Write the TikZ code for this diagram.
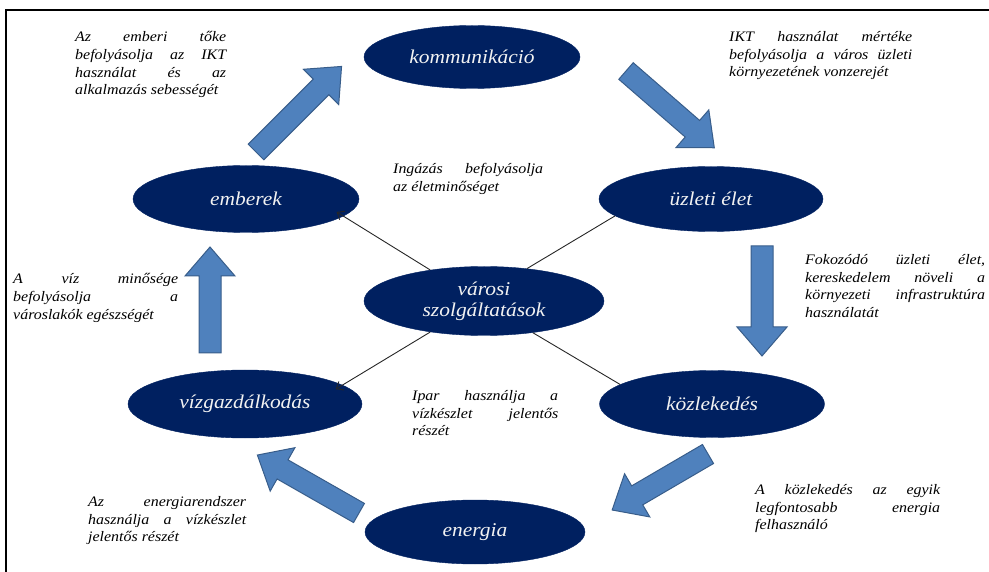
\documentclass[tikz,border=0pt]{standalone}
\usepackage{fontspec}
\setmainfont{Liberation Serif}
\newfontfamily\cfont{Liberation Serif}[FakeStretch=1.1]
\usetikzlibrary{shapes.geometric,arrows.meta}
\definecolor{navy}{HTML}{002060}
\definecolor{blockfill}{HTML}{4F81BD}
\definecolor{blockline}{HTML}{385D8A}
\tikzset{
  oval/.style={ellipse, fill=navy, draw=navy, inner sep=0pt, text=white!95!black,
    font=\cfont\itshape\fontsize{19.5}{21}\selectfont, align=center},
  callout/.style={anchor=north west, inner sep=0pt, align=left,
    font=\cfont\itshape\fontsize{14.5}{17.8}\selectfont},
  thinline/.style={draw=black!85, line width=0.9pt},
  thinarrow/.style={thinline, -{Straight Barb[length=6pt,width=10pt]}, shorten >=-8pt},
  blockstyle/.style={fill=blockfill, draw=blockline, line width=1pt, line join=miter},
}
\newcommand\jl[2]{\makebox[#1][s]{#2}}
\newcommand\barrow[3]{%
  \draw[blockstyle, shift={#1}, rotate=#2] (0,-11) -- ({#3-29},-11) -- ({#3-29},-25)
    -- (#3,0) -- ({#3-29},25) -- ({#3-29},11) -- (0,11) -- cycle;}
\begin{document}
\begin{tikzpicture}[x=1pt,y=-1pt]
\useasboundingbox (0,0) rectangle (989,572);
\draw[line width=2pt] (6,572) -- (6,10) -- (989,10);

% ellipses
\node[oval, minimum width=216pt, minimum height=63pt] (kom) at (472,57) {kommunikáció};
\node[oval, minimum width=226pt, minimum height=67pt] (emb) at (246,199) {emberek};
\node[oval, minimum width=224pt, minimum height=65pt] (uz) at (711,199) {üzleti élet};
\node[oval, minimum width=240pt, minimum height=69pt] (v) at (484,301) {városi\\szolgáltatások};
\node[oval, minimum width=234pt, minimum height=68pt] (viz) at (245,404) {vízgazdálkodás};
\node[oval, minimum width=225pt, minimum height=67pt] (koz) at (712,404) {közlekedés};
\node[oval, minimum width=220pt, minimum height=64pt] (en) at (475,532) {energia};

% thin connectors
\draw[thinarrow] (v.150) -- (emb.-10);
\draw[thinarrow] (v.210) -- (viz.11);
\draw[thinline] (v.37) -- (uz.190);
\draw[thinline] (v.-33) -- (koz.168);

% block arrows
\barrow{(256,152)}{45}{121}
\barrow{(626,71)}{-41}{117}
\barrow{(762,246)}{-90}{110}
\barrow{(708,454)}{210.3}{111}
\barrow{(359,513)}{150.3}{117}
\barrow{(210,353)}{90}{106}

% callouts
\node[callout] (t1) at (75,31) {\jl{151pt}{Az emberi tőke}\\\jl{151pt}{befolyásolja az IKT}\\\jl{151pt}{használat és az}\\alkalmazás sebességét};
\node[callout] (t2) at (729,31) {\jl{183pt}{IKT használat mértéke}\\\jl{183pt}{befolyásolja a város üzleti}\\környezetének vonzerejét};
\node[callout] (t3) at (393,163) {\jl{150pt}{Ingázás befolyásolja}\\az életminőséget};
\node[callout] (t4) at (13,273) {\jl{165pt}{A víz minősége}\\\jl{165pt}{befolyásolja a}\\városlakók egészségét};
\node[callout] (t5) at (805,254) {\jl{180pt}{Fokozódó üzleti élet,}\\\jl{180pt}{kereskedelem növeli a}\\\jl{180pt}{környezeti infrastruktúra}\\használatát};
\node[callout] (t6) at (412,390) {\jl{146pt}{Ipar használja a}\\\jl{146pt}{vízkészlet jelentős}\\részét};
\node[callout] (t7) at (88,496) {\jl{158pt}{Az energiarendszer}\\\jl{158pt}{használja a vízkészlet}\\jelentős részét};
\node[callout] (t8) at (755,484) {\jl{185pt}{A közlekedés az egyik}\\\jl{185pt}{legfontosabb energia}\\felhasználó};
\end{tikzpicture}
\end{document}
